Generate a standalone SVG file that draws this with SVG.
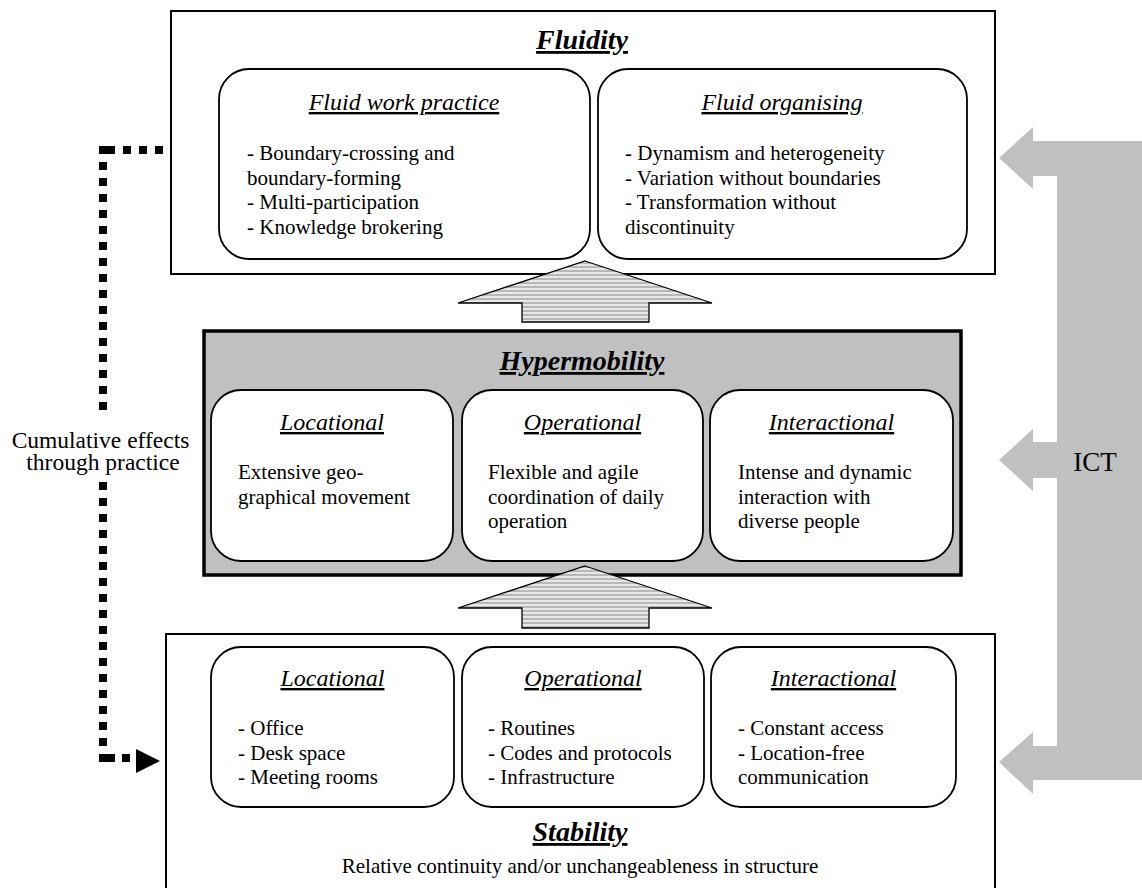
<svg xmlns="http://www.w3.org/2000/svg" width="1142" height="888" viewBox="0 0 1142 888">
<style>
text{fill:#000;font-family:Liberation Serif,Times New Roman,serif}
.title{font-size:28px;font-weight:bold;font-style:italic;text-decoration:underline;text-anchor:middle}
.sub{font-size:24px;font-style:italic;text-decoration:underline;text-anchor:middle}
.body{font-size:21px}
.outer{fill:#fff;stroke:#000;stroke-width:2}
.inner{fill:#fff;stroke:#000;stroke-width:1.8}
.up{fill:url(#stripes);stroke:#000;stroke-width:1.3}
.dots{fill:none;stroke:#000;stroke-width:8;stroke-dasharray:8 8}
</style>
<defs>
<pattern id="stripes" patternUnits="userSpaceOnUse" width="8" height="4">
<rect width="8" height="4" fill="#e8e8e8"/>
<rect y="2" width="8" height="2" fill="#b8b8b8"/>
</pattern>
</defs>

<g id="ict">
<polygon fill="#c0c0c0" points="1142,141 1033,141 1033,127 999,158 1033,189 1033,176 1057,176 1057,442 1033,442 1033,429 999,460 1033,491 1033,478 1057,478 1057,746 1033,746 1033,732 999,762 1033,794 1033,780 1142,780"/>
<text x="1095" y="471" font-size="27" text-anchor="middle" font-family="Liberation Serif">ICT</text>
</g>

<g id="fluidity">
<rect class="outer" x="171" y="11" width="824" height="263"/>
<text class="title" x="582" y="49">Fluidity</text>
<g id="fluid-work-practice">
<rect class="inner" x="219" y="69" width="371" height="190" rx="30"/>
<text class="sub" x="404" y="110">Fluid work practice</text>
<text class="body" x="247" y="160">- Boundary-crossing and</text>
<text class="body" x="247" y="184.5">boundary-forming</text>
<text class="body" x="247" y="209">- Multi-participation</text>
<text class="body" x="247" y="233.5">- Knowledge brokering</text>
</g>
<g id="fluid-organising">
<rect class="inner" x="598" y="69" width="369" height="190" rx="30"/>
<text class="sub" x="782" y="110">Fluid organising</text>
<text class="body" x="625" y="160">- Dynamism and heterogeneity</text>
<text class="body" x="625" y="184.5">- Variation without boundaries</text>
<text class="body" x="625" y="209">- Transformation without</text>
<text class="body" x="625" y="233.5">discontinuity</text>
</g>
</g>

<g id="hypermobility">
<rect x="204" y="331" width="757" height="244" fill="#c0c0c0" stroke="#000" stroke-width="3.5"/>
<text class="title" x="582" y="370">Hypermobility</text>
<g id="hyper-locational">
<rect class="inner" x="211" y="390" width="242" height="171" rx="30"/>
<text class="sub" x="332" y="430">Locational</text>
<text class="body" x="238" y="479">Extensive geo-</text>
<text class="body" x="238" y="503.5">graphical movement</text>
</g>
<g id="hyper-operational">
<rect class="inner" x="462" y="390" width="241" height="171" rx="30"/>
<text class="sub" x="582.5" y="430">Operational</text>
<text class="body" x="488" y="479">Flexible and agile</text>
<text class="body" x="488" y="503.5">coordination of daily</text>
<text class="body" x="488" y="528">operation</text>
</g>
<g id="hyper-interactional">
<rect class="inner" x="710" y="390" width="243" height="171" rx="30"/>
<text class="sub" x="831.5" y="430">Interactional</text>
<text class="body" x="738" y="479">Intense and dynamic</text>
<text class="body" x="738" y="503.5">interaction with</text>
<text class="body" x="738" y="528">diverse people</text>
</g>
</g>

<g id="stability">
<rect class="outer" x="166" y="634" width="829" height="260"/>
<g id="stab-locational">
<rect class="inner" x="211" y="647" width="243" height="160" rx="30"/>
<text class="sub" x="332.5" y="686">Locational</text>
<text class="body" x="238" y="735">- Office</text>
<text class="body" x="238" y="759.5">- Desk space</text>
<text class="body" x="238" y="784">- Meeting rooms</text>
</g>
<g id="stab-operational">
<rect class="inner" x="462" y="647" width="242" height="160" rx="30"/>
<text class="sub" x="583" y="686">Operational</text>
<text class="body" x="488" y="735">- Routines</text>
<text class="body" x="488" y="759.5">- Codes and protocols</text>
<text class="body" x="488" y="784">- Infrastructure</text>
</g>
<g id="stab-interactional">
<rect class="inner" x="711" y="647" width="245" height="160" rx="30"/>
<text class="sub" x="833.5" y="686">Interactional</text>
<text class="body" x="738" y="735">- Constant access</text>
<text class="body" x="738" y="759.5">- Location-free</text>
<text class="body" x="738" y="784">communication</text>
</g>
<text class="title" x="580" y="841">Stability</text>
<text class="body" x="580" y="873" text-anchor="middle">Relative continuity and/or unchangeableness in structure</text>
</g>

<g id="connectors">
<polygon class="up" points="585,261 712,303 649,303 649,322 522,322 522,303 458,303"/>
<polygon class="up" points="585,566 712,608 649,608 649,628 522,628 522,608 458,608"/>
<path class="dots" d="M107 150 H165"/>
<rect x="99" y="146" width="8" height="8"/>
<path class="dots" d="M103 162 V410"/>
<path class="dots" d="M103 482 V746"/>
<rect x="99" y="754" width="16" height="8"/>
<rect x="122" y="754" width="8" height="8"/>
<polygon points="136,749 160,761 136,773"/>
</g>

<g id="cumulative-label">
<text x="100.5" y="448" font-size="23.5" text-anchor="middle">Cumulative effects</text>
<text x="103" y="470" font-size="23.5" text-anchor="middle">through practice</text>
</g>
</svg>
